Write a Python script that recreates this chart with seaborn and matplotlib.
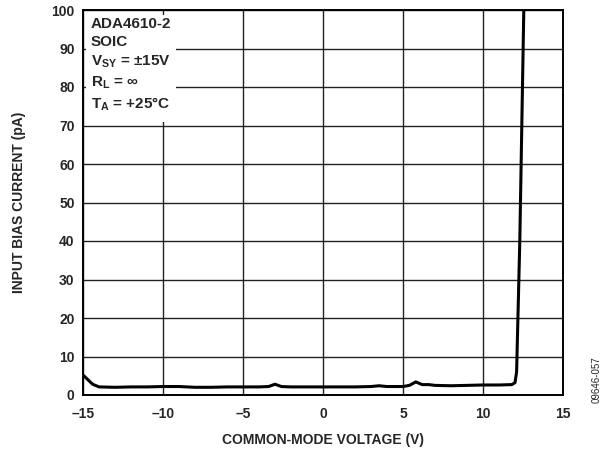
import numpy as np
import matplotlib
matplotlib.use('Agg')
import matplotlib.pyplot as plt
import matplotlib.patches as mpatches
import seaborn as sns
import pandas as pd

# Curve
voltage = [-15.0, -14.7, -14.4, -14.0, -13.0, -12.0, -11.0, -10.0, -9.0, -8.0, -7.0, -6.0,
           -5.0, -4.0, -3.4, -3.0, -2.6, -2.0, -1.0, 0.0, 1.0, 2.0, 3.0, 3.5, 4.0, 5.0,
           5.4, 5.8, 6.2, 6.6, 7.0, 8.0, 9.0, 10.0, 11.0, 11.8, 12.0, 12.1, 12.3, 12.55]
current = [5.2, 4.0, 2.8, 2.1, 2.0, 2.1, 2.1, 2.2, 2.2, 2.0, 2.0, 2.1,
           2.1, 2.1, 2.2, 2.8, 2.2, 2.1, 2.1, 2.1, 2.1, 2.1, 2.2, 2.4, 2.2, 2.2,
           2.5, 3.4, 2.7, 2.7, 2.5, 2.4, 2.5, 2.6, 2.6, 2.7, 3.2, 6.0, 40.0, 100.0]

df = pd.DataFrame({'v': voltage, 'i': current})

sns.set_style('white')
plt.rcParams['font.family'] = ['Liberation Sans', 'DejaVu Sans']
plt.rcParams['font.weight'] = 'bold'
plt.rcParams['mathtext.fontset'] = 'custom'
plt.rcParams['mathtext.rm'] = 'Liberation Sans:bold'
plt.rcParams['mathtext.bf'] = 'Liberation Sans:bold'
plt.rcParams['mathtext.it'] = 'Liberation Sans:bold'

fig = plt.figure(figsize=(6.08, 4.49), dpi=100)
ax = fig.add_axes([83 / 608, 1 - 395 / 449, 480 / 608, 385 / 449])

sns.lineplot(data=df, x='v', y='i', ax=ax, color='black', linewidth=2.2, zorder=3)

ax.set_xlim(-15, 15)
ax.set_ylim(0, 100)
ax.set_xticks(np.arange(-15, 16, 5))
ax.set_yticks(np.arange(0, 101, 10))
ax.set_xticklabels(['\u201315', '\u201310', '\u20135', '0', '5', '10', '15'])
ax.grid(True, color='#222222', linewidth=1.0)
ax.set_axisbelow(True)
for s in ax.spines.values():
    s.set_color('black')
    s.set_linewidth(1.4)
    s.set_zorder(6)
ax.tick_params(axis='x', labelsize=10, length=0, pad=9)
ax.tick_params(axis='y', labelsize=10, length=0, pad=6)
for lab in ax.get_xticklabels() + ax.get_yticklabels():
    lab.set_fontweight('bold')

ax.set_xlabel('COMMON-MODE VOLTAGE (V)', fontsize=10, fontweight='bold', labelpad=8)
ax.set_ylabel('INPUT BIAS CURRENT (pA)', fontsize=10, fontweight='bold', labelpad=18)

# white label box hiding the grid
ax.add_patch(mpatches.Rectangle((0.006, 0.709), 0.188, 0.278, transform=ax.transAxes,
                                facecolor='white', edgecolor='none', zorder=4))
ax.text(0.016, 0.982,
        'ADA4610-2\nSOIC\n$\\mathrm{V_{SY}}$ = \u00b115V\n$\\mathrm{R_L}$ = \u221e\n$\\mathrm{T_A}$ = +25\u00b0C',
        transform=ax.transAxes, ha='left', va='top', fontsize=11, fontweight='bold',
        linespacing=1.38, zorder=5)

fig.text(597 / 608, 1 - 380 / 449, '09646-057', rotation=90, ha='center', va='center',
         fontsize=7, fontweight='normal')

fig.savefig('out.png', dpi=100)
